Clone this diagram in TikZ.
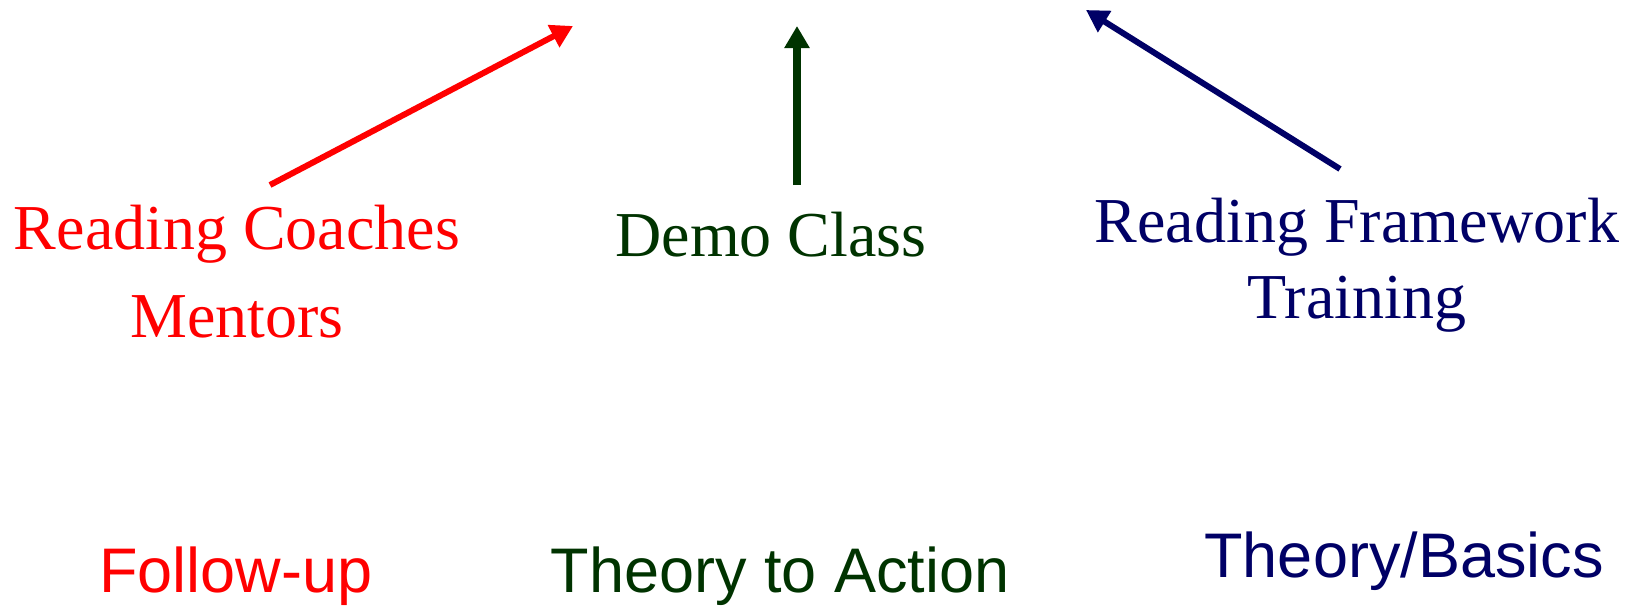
\documentclass[tikz,border=0pt]{standalone}
\usepackage{fontspec}
\setmainfont{Liberation Serif}
\setsansfont{Liberation Sans}
\usetikzlibrary{arrows.meta,positioning}
\definecolor{coachred}{RGB}{255,0,0}
\definecolor{demogreen}{RGB}{0,51,0}
\definecolor{frameblue}{RGB}{0,0,102}

\begin{document}
\begin{tikzpicture}[x=0.5pt, y=-0.5pt,
        every node/.style={inner sep=0pt, outer sep=0pt, align=center},
        toplabel/.style={font=\fontsize{32}{44}\selectfont\rmfamily, anchor=base},
        steplabel/.style={font=\fontsize{31.5}{38}\selectfont\sffamily, anchor=base},
        uparrow/.style={line width=3pt, -{Triangle[length=11pt,width=12pt]}}]
        \useasboundingbox (0,0) rectangle (1631,605);
        % upper row
        \node[toplabel, text=coachred] (coach) at (237,337) {Reading Coaches\\Mentors};
        \node[toplabel, text=demogreen] (demo) at (771,256) {Demo Class};
        \node[toplabel, text=frameblue, font=\fontsize{32}{38}\selectfont\rmfamily] (frame) at (1357,318) {Reading Framework\\Training};
        % lower row
        \node[steplabel, text=coachred] (follow) at (236,592) {Follow-up};
        \node[steplabel, text=demogreen] (action) at (780,592) {Theory to Action};
        \node[steplabel, text=frameblue] (basics) at (1404,577) {Theory/Basics};
        % arrows
        \coordinate (coachtail) at (270,185);
        \coordinate (coachtip) at (573,26);
        \coordinate (demotail) at (797,185);
        \coordinate (demotip) at (797,26);
        \coordinate (frametail) at (1340,169);
        \coordinate (frametip) at (1086,10);
        \draw[uparrow, coachred] (coachtail) -- (coachtip);
        \draw[uparrow, demogreen, line width=4pt] (demotail) -- (demotip);
        \draw[uparrow, frameblue] (frametail) -- (frametip);
    \end{tikzpicture}
\end{document}
